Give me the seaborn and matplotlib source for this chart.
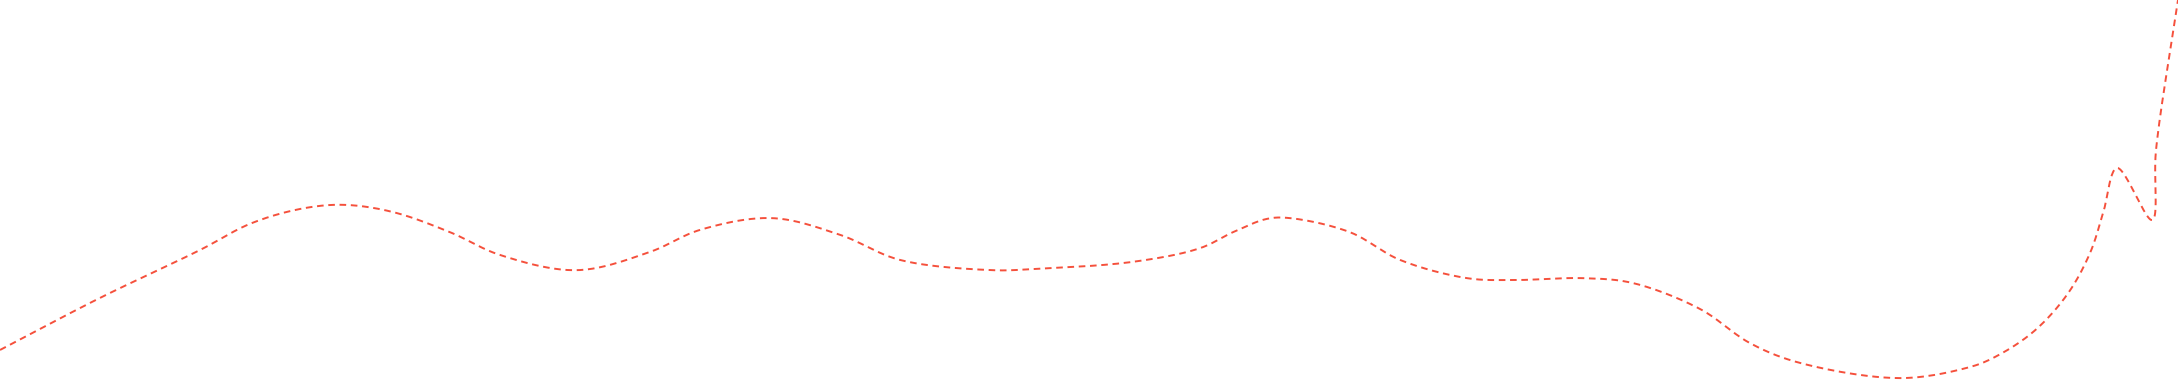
import numpy as np
import pandas as pd
import seaborn as sns
import matplotlib
matplotlib.use("Agg")
import matplotlib.pyplot as plt

# values (x: 0-100 across, y: 0-100 bottom to top)
x_vals = [0.0, 4.59, 9.18, 11.48, 13.77, 15.75, 18.04, 20.66, 22.96, 26.49,
          29.84, 32.14, 35.45, 38.57, 41.32, 45.59, 47.43, 52.02, 55.10, 56.61,
          58.17, 59.23, 61.98, 64.28, 67.36, 69.47, 72.68, 74.98, 78.05, 80.35,
          82.64, 87.24, 90.31, 91.51, 93.34, 94.90, 95.96, 96.56, 97.20,
          98.81, 98.99, 100.0]
y_vals = [7.9, 21.6, 34.2, 41.1, 45.0, 46.1, 44.2, 38.9, 32.9, 28.9,
          33.7, 39.5, 42.6, 38.2, 31.6, 28.9, 29.2, 31.1, 34.7, 38.9,
          42.4, 42.6, 38.9, 31.6, 26.8, 26.3, 26.8, 25.5, 18.7, 9.7,
          4.5, 0.5, 3.2, 5.8, 12.6, 22.4, 33.4, 43.9, 55.8,
          42.1, 60.5, 100.0]

W, H = 2178, 380


def catmull_rom(xs, ys, sx, sy, n=25):
    # centripetal catmull-rom smoothing, like a d3 curve
    pts = np.column_stack([xs, ys]).astype(float)
    scale = np.array([sx, sy])
    p = np.vstack([2 * pts[0] - pts[1], pts, 2 * pts[-1] - pts[-2]])
    out = []
    for i in range(1, len(p) - 2):
        P0, P1, P2, P3 = p[i - 1], p[i], p[i + 1], p[i + 2]
        t0 = 0.0
        t1 = t0 + np.linalg.norm((P1 - P0) * scale) ** 0.5
        t2 = t1 + np.linalg.norm((P2 - P1) * scale) ** 0.5
        t3 = t2 + np.linalg.norm((P3 - P2) * scale) ** 0.5
        t = np.linspace(t1, t2, n)[:, None]
        A1 = (t1 - t) / (t1 - t0) * P0 + (t - t0) / (t1 - t0) * P1
        A2 = (t2 - t) / (t2 - t1) * P1 + (t - t1) / (t2 - t1) * P2
        A3 = (t3 - t) / (t3 - t2) * P2 + (t - t2) / (t3 - t2) * P3
        B1 = (t2 - t) / (t2 - t0) * A1 + (t - t0) / (t2 - t0) * A2
        B2 = (t3 - t) / (t3 - t1) * A2 + (t - t1) / (t3 - t1) * A3
        C = (t2 - t) / (t2 - t1) * B1 + (t - t1) / (t2 - t1) * B2
        out.append(C if i == 1 else C[1:])
    return np.vstack(out)


curve = catmull_rom(x_vals, y_vals, W / 100, H / 100)
df = pd.DataFrame({"x": curve[:, 0], "y": curve[:, 1]})

sns.set_style("white")
fig = plt.figure(figsize=(W / 100, H / 100), dpi=100)
ax = fig.add_axes([0, 0, 1, 1])
sns.lineplot(data=df, x="x", y="y", sort=False, estimator=None, ax=ax,
             color="#f5503c", linewidth=1.4, dashes=False)
ax.lines[0].set_dashes((3.4, 2.4))
ax.set_xlim(0, 100)
ax.set_ylim(0, 100)
ax.axis("off")
fig.savefig("out.png", dpi=100, facecolor="white")
